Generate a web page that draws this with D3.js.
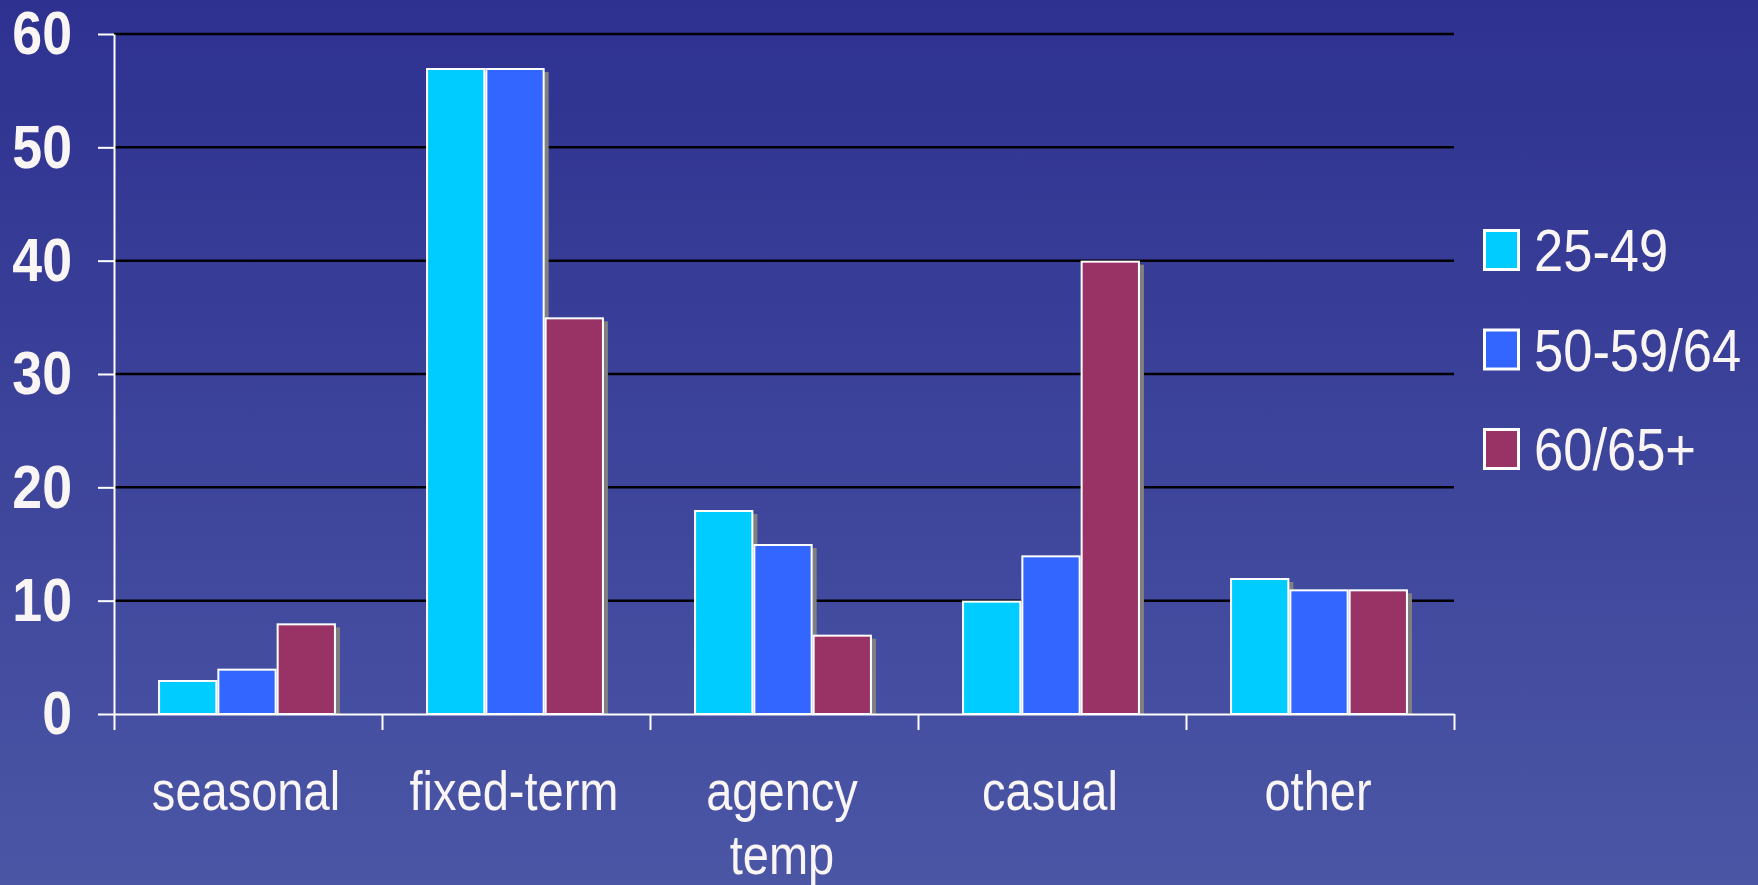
<!DOCTYPE html>
<html>
<head>
<meta charset="utf-8">
<script src="https://cdn.jsdelivr.net/npm/d3@7"></script>
<style>
  html, body { margin: 0; padding: 0; overflow: hidden; background: #3b4299; }
  svg { display: block; }
  text { font-family: "Liberation Sans", Arial, sans-serif; fill: #faf5f5; }
</style>
</head>
<body>
<div id="chart"></div>
<script>
// data
const categories = ["seasonal", "fixed-term", "agency temp", "casual", "other"]
const seriesNames = ["25-49", "50-59/64", "60/65+"]
const values2549 = [3, 57, 18, 10, 12]
const values5064 = [4, 57, 15, 14, 11]
const values6065 = [8, 35, 7, 40, 11]
const yTicks = [0, 10, 20, 30, 40, 50, 60]
const colors = ["#00ccff", "#3366ff", "#993366"]

const seriesValues = [values2549, values5064, values6065]
const data = categories.map((c, i) => ({
  category: c,
  values: seriesNames.map((s, j) => ({ key: s, value: seriesValues[j][i], color: colors[j] }))
}))

const width = 1758
const height = 885
const plot = { left: 114, right: 1454, top: 34, bottom: 714 }

const svg = d3
  .select("#chart")
  .append("svg")
  .attr("width", width)
  .attr("height", height)

// background gradient
const grad = svg.append("defs").append("linearGradient")
  .attr("id", "bg")
  .attr("x1", 0).attr("y1", 0).attr("x2", 0).attr("y2", 1)
grad.append("stop").attr("offset", "0%").attr("stop-color", "#2e3190")
grad.append("stop").attr("offset", "100%").attr("stop-color", "#4b56a5")
svg.append("rect").attr("width", width).attr("height", height).attr("fill", "url(#bg)")

const x0 = d3.scaleBand().domain(categories).range([plot.left, plot.right]).padding(0)
const x1 = d3.scaleBand().domain(seriesNames).range([0, x0.bandwidth()]).paddingInner(0).paddingOuter(0.76)
const y = d3.scaleLinear().domain([0, 60]).range([plot.bottom, plot.top])
const xEdges = d3.scaleLinear().domain([0, categories.length]).range([plot.left, plot.right])

// gridlines
svg.append("g")
  .selectAll("line")
  .data(yTicks.filter(t => t > 0))
  .enter()
  .append("line")
  .attr("x1", plot.left)
  .attr("x2", plot.right)
  .attr("y1", d => y(d))
  .attr("y2", d => y(d))
  .attr("stroke", "#000")
  .attr("stroke-width", 2.5)

// bars: shadows first, then the bars themselves
const groups = svg.append("g")
  .selectAll("g")
  .data(data)
  .enter()
  .append("g")
  .attr("transform", d => `translate(${x0(d.category) - 1},0)`)

groups.selectAll("rect.shadow")
  .data(d => d.values)
  .enter()
  .append("rect")
  .attr("class", "shadow")
  .attr("x", d => x1(d.key) + 4)
  .attr("y", d => y(d.value) + 4)
  .attr("width", x1.bandwidth())
  .attr("height", d => Math.max(0, y(0) - y(d.value) - 4))
  .attr("fill", "#808080")

groups.selectAll("rect.bar")
  .data(d => d.values)
  .enter()
  .append("rect")
  .attr("class", "bar")
  .attr("x", d => x1(d.key) + 1)
  .attr("y", d => y(d.value) + 1)
  .attr("width", x1.bandwidth() - 2)
  .attr("height", d => y(0) - y(d.value) - 1)
  .attr("fill", d => d.color)
  .attr("stroke", "#fff")
  .attr("stroke-width", 2)

// y axis
const yAxis = svg.append("g")
  .attr("transform", `translate(${plot.left},0)`)
  .call(d3.axisLeft(y).tickValues(yTicks).tickSize(16).tickSizeOuter(0).tickPadding(26))
yAxis.select(".domain").attr("stroke", "#fff").attr("stroke-width", 2)
yAxis.selectAll(".tick line").attr("stroke", "#fff").attr("stroke-width", 2)
yAxis.selectAll(".tick text")
  .attr("x", 0)
  .attr("dy", "0.34em")
  .attr("transform", "translate(-42,-1) scale(0.88,1)")
  .style("font-size", "61px")
  .style("font-weight", "bold")
  .style("fill", "#faf5f5")

// x axis with ticks on the band edges
const xAxis = svg.append("g")
  .attr("transform", `translate(0,${plot.bottom})`)
  .call(d3.axisBottom(xEdges).tickValues(d3.range(categories.length + 1)).tickSize(16).tickSizeOuter(0).tickFormat(""))
xAxis.select(".domain").attr("stroke", "#fff").attr("stroke-width", 2)
xAxis.selectAll(".tick line").attr("stroke", "#fff").attr("stroke-width", 2)

// category labels, wrapped when too wide for the band
const catFont = 56
const catScale = 0.84
const labels = svg.append("g")
  .selectAll("text")
  .data(categories)
  .enter()
  .append("text")
  .attr("text-anchor", "middle")
  .attr("transform", d => `translate(${x0(d) + x0.bandwidth() / 2 - 2},810) scale(${catScale},1)`)
  .style("font-size", catFont + "px")

labels.each(function (d) {
  const el = d3.select(this)
  el.text(d)
  const w = this.getComputedTextLength() * catScale
  if (w > x0.bandwidth() * 0.95) {
    const words = d.split(" ")
    el.text(null)
    words.forEach((word, i) => {
      el.append("tspan").attr("x", 0).attr("dy", i === 0 ? 0 : 64).text(word)
    })
  }
})

// legend
const legend = svg.append("g")
  .selectAll("g")
  .data(seriesNames)
  .enter()
  .append("g")
  .attr("transform", (d, i) => `translate(1483,${250 + i * 99.5})`)

legend.append("rect")
  .attr("x", 1.5)
  .attr("y", -19.5)
  .attr("width", 34)
  .attr("height", 39)
  .attr("fill", (d, i) => colors[i])
  .attr("stroke", "#fff")
  .attr("stroke-width", 3)

legend.append("text")
  .attr("transform", "translate(51,0) scale(0.89,1)")
  .attr("dy", "0.36em")
  .style("font-size", "59px")
  .text(d => d)
</script>
</body>
</html>
